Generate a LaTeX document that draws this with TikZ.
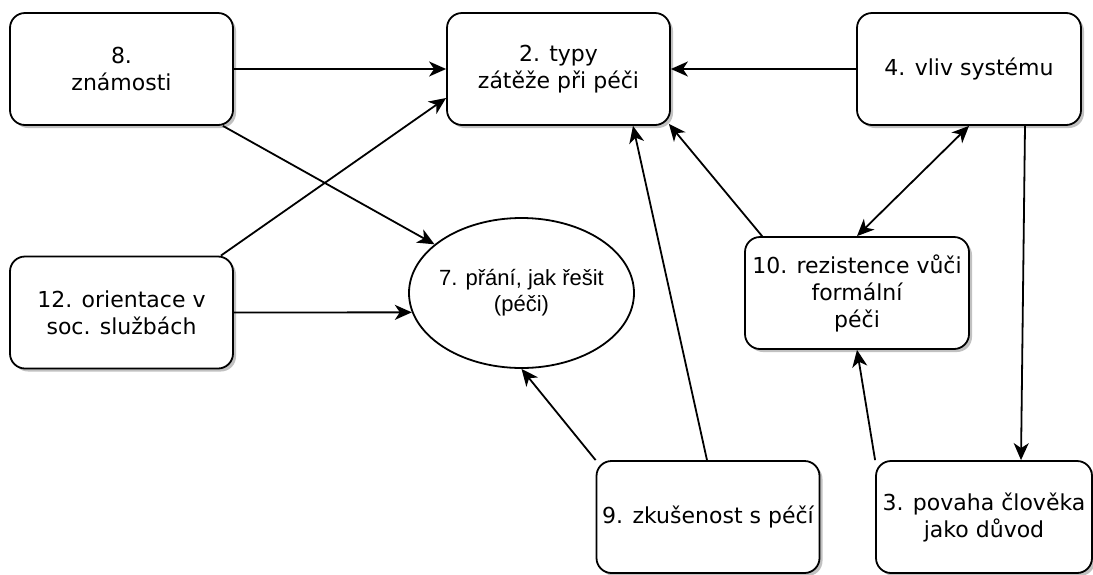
\documentclass[tikz,border=0pt]{standalone}
\usepackage{fontspec}
\setmainfont{DejaVu Sans}
\newfontfamily\arialfont{Liberation Sans}
\usetikzlibrary{arrows.meta,shapes.geometric,shadows}
\begin{document}
\begin{tikzpicture}[x=1pt,y=-1pt,
  boxnode/.style={draw=black,line width=1.8pt,fill=white,rounded corners=15pt,
    minimum width=223pt,minimum height=112pt,inner sep=0pt,align=center,
    font=\fontsize{22}{27}\selectfont,
    drop shadow={shadow xshift=3pt,shadow yshift=-3pt,opacity=0.4,fill=black!60}},
  ellnode/.style={draw=black,line width=1.8pt,fill=white,ellipse,
    minimum width=225pt,minimum height=150pt,inner ysep=0pt,inner xsep=-12pt,align=center,
    font=\arialfont\fontsize{22}{26}\selectfont},
  conn/.style={line width=1.8pt,-{Stealth[length=17pt,width=15pt,inset=5pt]}},
  biconn/.style={line width=1.8pt,{Stealth[length=17pt,width=15pt,inset=5pt]}-{Stealth[length=17pt,width=15pt,inset=5pt]}}]
\useasboundingbox (0,0) rectangle (1093,574);
\fill[white] (0,0) rectangle (1093,574);
\node[boxnode] (b8) at (121.5,69) {8.\\známosti};
\node[boxnode] (b2) at (558.5,69) {2. typy\\zátěže při péči};
\node[boxnode,minimum width=224pt] (b4) at (969,69) {4. vliv systému};
\node[boxnode,minimum width=224pt] (b10) at (857,293) {10. rezistence vůči\\formální\\péči};
\node[boxnode] (b12) at (121.5,312.5) {12. orientace v\\soc. službách};
\node[boxnode] (b9) at (708,517) {9. zkušenost s péčí};
\node[boxnode,minimum width=216pt] (b3) at (984,517) {3. povaha člověka\\jako důvod};
\node[ellnode] (b7) at (521.5,293) {7. přání, jak řešit\\(péči)};

\draw[conn] (b8.east) -- (b2.west);
\draw[conn] ([xshift=-13pt]b12.north east) -- ([yshift=-29pt]b2.west);
\draw[conn] ([xshift=-11pt]b8.south east) -- (b7);
\draw[conn] (b12.east) -- (b7.190);
\draw[conn] (b4.west) -- (b2.east);
\draw[conn] ([xshift=18pt]b10.north west) -- ([xshift=-2pt,yshift=2pt]b2.south east);
\draw[biconn] (b4.south) -- (b10.north);
\draw[conn] ([xshift=56pt]b4.south) -- ([xshift=37pt]b3.north);
\draw[conn] (b9.north west) -- (b7.south);
\draw[conn] ([xshift=-1pt]b9.north) -- ([xshift=74.5pt]b2.south);
\draw[conn] (b3.north west) -- (b10.south);
\end{tikzpicture}
\end{document}
